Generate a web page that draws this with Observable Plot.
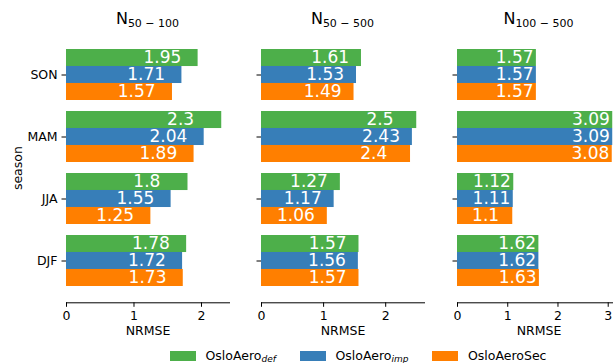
<!DOCTYPE html>
<html>
<head>
<meta charset="utf-8">
<script src="https://cdn.jsdelivr.net/npm/d3@7"></script>
<script src="https://cdn.jsdelivr.net/npm/@observablehq/plot@0.6"></script>
<style>
  html, body { margin: 0; padding: 0; background: #fff; }
  #chart { position: relative; width: 613px; height: 363px; overflow: hidden;
           font-family: "DejaVu Sans", sans-serif; color: #000; }
  .panel { position: absolute; top: 0; }
  .panel svg { max-width: none !important; display: block; }
  .ttl { position: absolute; top: 11px; width: 163px; text-align: center;
         font-size: 16px; line-height: 16px; height: 16px; white-space: nowrap; }
  .ttl sub { font-size: 11px; vertical-align: -3px; line-height: 0; }
  .legend { position: absolute; left: 170px; top: 347px; display: flex; gap: 24px;
            font-size: 12.5px; line-height: 18px; white-space: nowrap; }
  .item { display: flex; align-items: center; }
  .sw { width: 26px; height: 9.5px; margin-right: 9.5px; }
  .item sub { font-size: 9px; font-style: italic; vertical-align: -2px; line-height: 0; }
</style>
</head>
<body>
<div id="chart"></div>
<script>
// Seasons, top to bottom
const seasons = ["SON", "MAM", "JJA", "DJF"];

// Model runs (legend order) and their colours
const models = ["OsloAero_def", "OsloAero_imp", "OsloAeroSec"];
const modelColors = ["#4daf4a", "#377eb8", "#ff7f00"];

// Size ranges shown in the three panels (subscripts of N)
const sizeRanges = ["50 − 100", "50 − 500", "100 − 500"];

// NRMSE per season (SON, MAM, JJA, DJF)
const n50_100_def = [1.95, 2.3, 1.8, 1.78];
const n50_100_imp = [1.71, 2.04, 1.55, 1.72];
const n50_100_sec = [1.57, 1.89, 1.25, 1.73];

const n50_500_def = [1.61, 2.5, 1.27, 1.57];
const n50_500_imp = [1.53, 2.43, 1.17, 1.56];
const n50_500_sec = [1.49, 2.4, 1.06, 1.57];

const n100_500_def = [1.57, 3.09, 1.12, 1.62];
const n100_500_imp = [1.57, 3.09, 1.11, 1.62];
const n100_500_sec = [1.57, 3.08, 1.1, 1.63];

// x-axis tick values per panel
const xTicks12 = [0, 1, 2];
const xTicks123 = [0, 1, 2, 3];

const panels = [
  {range: sizeRanges[0], series: [n50_100_def, n50_100_imp, n50_100_sec], ticks: xTicks12},
  {range: sizeRanges[1], series: [n50_500_def, n50_500_imp, n50_500_sec], ticks: xTicks12},
  {range: sizeRanges[2], series: [n100_500_def, n100_500_imp, n100_500_sec], ticks: xTicks123}
];

// Layout
const H = 342, TOP = 33, BOTTOM = 302.3, INNER_W = 163;
const frameLefts = [66, 261, 457];
const PAD_IN = 0.184, PAD_OUT = 0.249;
const step = (BOTTOM - TOP) / (seasons.length - PAD_IN + 2 * PAD_OUT);
const band = step * (1 - PAD_IN);
const sub = band / models.length;   // height of one bar inside a season group

const chart = document.getElementById("chart");

panels.forEach((p, i) => {
  const rows = [];
  p.series.forEach((vals, k) => vals.forEach((v, j) =>
    rows.push({season: seasons[j], model: models[k], k, value: v})));
  const xmax = d3.max(rows, d => d.value) * 1.05;
  const ml = i === 0 ? 66 : 20;
  const mr = 14;
  const W = ml + INNER_W + mr;

  const marks = [];
  models.forEach((m, k) => {
    const r = rows.filter(d => d.k === k);
    marks.push(Plot.barX(r, {
      y: "season", x: "value", fill: modelColors[k],
      insetTop: k * sub, insetBottom: (models.length - 1 - k) * sub
    }));
  });
  models.forEach((m, k) => {
    const r = rows.filter(d => d.k === k);
    marks.push(Plot.text(r, {
      y: "season", x: d => d.value - 0.81, text: d => String(d.value),
      textAnchor: "start", fill: "white", fontSize: 17, dy: (k - 1) * sub
    }));
  });
  marks.push(Plot.frame({anchor: "bottom", stroke: "#000", strokeWidth: 1}));
  marks.push(Plot.axisX({
    ticks: p.ticks, tickSize: 4.5, tickPadding: 4, tickFormat: d => String(d),
    label: "NRMSE", labelAnchor: "center", labelArrow: "none", labelOffset: 32
  }));
  marks.push(Plot.axisY({
    tickSize: 4.5, tickPadding: 4.5,
    tickFormat: i === 0 ? d => d : () => "",
    label: i === 0 ? "season" : null, labelAnchor: "center", labelArrow: "none", labelOffset: 53
  }));

  const svg = Plot.plot({
    width: W, height: H,
    marginLeft: ml, marginRight: mr, marginTop: TOP, marginBottom: H - BOTTOM,
    style: {fontFamily: "DejaVu Sans", fontSize: "12.5px", color: "#000", background: "transparent", overflow: "visible", maxWidth: "none"},
    x: {domain: [0, xmax]},
    y: {domain: seasons, paddingInner: PAD_IN, paddingOuter: PAD_OUT},
    marks
  });
  const wrap = document.createElement("div");
  wrap.className = "panel";
  wrap.style.left = (frameLefts[i] - ml) + "px";
  wrap.style.width = W + "px";
  wrap.appendChild(svg);
  chart.appendChild(wrap);

  const t = document.createElement("div");
  t.className = "ttl";
  t.style.left = frameLefts[i] + "px";
  t.innerHTML = "N<sub>" + p.range + "</sub>";
  chart.appendChild(t);
});

// Legend below the panels
const legend = document.createElement("div");
legend.className = "legend";
models.forEach((m, k) => {
  const item = document.createElement("div");
  item.className = "item";
  const sw = document.createElement("span");
  sw.className = "sw";
  sw.style.background = modelColors[k];
  item.appendChild(sw);
  const lab = document.createElement("span");
  const parts = m.split("_");
  lab.innerHTML = parts.length > 1 ? parts[0] + "<sub>" + parts[1] + "</sub>" : m;
  item.appendChild(lab);
  legend.appendChild(item);
});
chart.appendChild(legend);
</script>
</body>
</html>
